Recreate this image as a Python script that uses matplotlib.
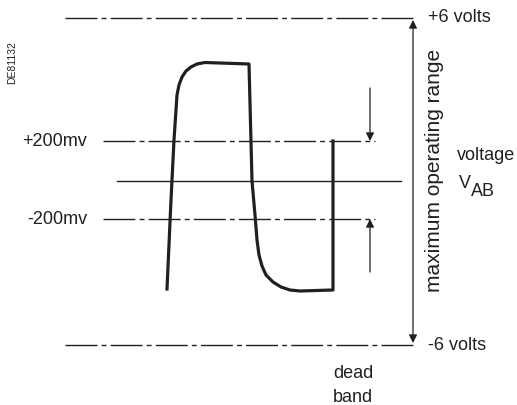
import matplotlib.pyplot as plt

# schéma en coordonnées pixels (y vers le bas)
W, H = 517, 405
ink = '#231f20'

# niveaux de tension (y en pixels)
level_names = ['+6 volts', '+200mv', 'centre', '-200mv', '-6 volts']
level_y = [18, 141, 181, 219, 345]

# signal V_AB
wave_x = [167, 171, 174, 176, 177, 179, 182, 186, 191, 197, 205, 249,
          252, 255, 257, 259, 262, 266, 273, 281, 290, 300, 333, 333]
wave_y = [289, 200, 140, 110, 95, 85, 77, 71, 67, 64, 62.5, 64,
          181, 215, 240, 255, 266, 275, 282, 287, 290, 291, 290, 141]

plt.rcParams['font.family'] = ['Liberation Sans', 'DejaVu Sans']
fig = plt.figure(figsize=(W / 100, H / 100), dpi=100)
ax = fig.add_axes([0, 0, 1, 1])
ax.set_xlim(0, W)
ax.set_ylim(H, 0)
ax.axis('off')

dd = (23, 3, 3.5, 3)
# lignes +/-6 V
for y in (level_y[0], level_y[4]):
    ax.plot([65, 415], [y, y], color=ink, lw=1, dashes=dd)
# lignes +/-200 mV
for y in (level_y[1], level_y[3]):
    ax.plot([103, 375], [y, y], color=ink, lw=1, dashes=dd)
# ligne centrale
ax.plot([117, 401], [level_y[2], level_y[2]], color=ink, lw=1)

ax.plot(wave_x, wave_y, color=ink, lw=2.3, solid_joinstyle='round')

# plage max
ax.annotate('', xy=(413, 20), xytext=(413, 343),
            arrowprops=dict(arrowstyle='<|-|>', color=ink, lw=0.9,
                            mutation_scale=12, shrinkA=0, shrinkB=0))
# bande morte
ax.annotate('', xy=(370, 141), xytext=(370, 88),
            arrowprops=dict(arrowstyle='-|>', color=ink, lw=0.9,
                            mutation_scale=12, shrinkA=0, shrinkB=0))
ax.annotate('', xy=(370, 219), xytext=(370, 272),
            arrowprops=dict(arrowstyle='-|>', color=ink, lw=0.9,
                            mutation_scale=12, shrinkA=0, shrinkB=0))

fs = 13
ax.text(428, level_y[0], level_names[0], fontsize=fs, color=ink, va='center')
ax.text(428, level_y[4], level_names[4], fontsize=fs, color=ink, va='center')
ax.text(87, level_y[1], level_names[1], fontsize=fs, color=ink, va='center', ha='right')
ax.text(87, level_y[3], level_names[3], fontsize=fs, color=ink, va='center', ha='right')
ax.text(435, 170, 'maximum operating range', fontsize=15, color=ink,
        rotation=90, ha='center', va='center')
ax.text(457, 155, 'voltage', fontsize=fs, color=ink, va='center')
ax.text(458.5, 184, 'V', fontsize=fs, color=ink, va='center')
ax.text(471, 192, 'AB', fontsize=fs, color=ink, va='center')
ax.text(353, 374, 'dead', fontsize=fs, color=ink, ha='center', va='center')
ax.text(353, 397, 'band', fontsize=fs, color=ink, ha='center', va='center')
ax.text(12, 63, 'DE81132', fontsize=7.5, color=ink, rotation=90, ha='center', va='center')

fig.savefig('out.png', dpi=100)
